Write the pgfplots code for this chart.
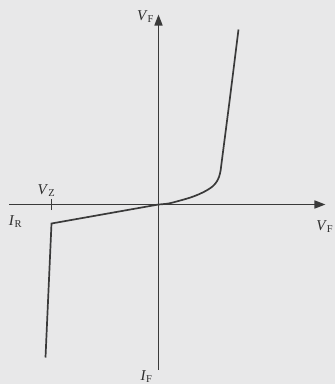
\documentclass[border=0pt]{standalone}
\usepackage{fontspec}
\setmainfont{Liberation Serif}
\usepackage{pgfplots}
\pgfplotsset{compat=1.18}
\usetikzlibrary{arrows.meta}
\definecolor{bg}{HTML}{E8E8E9}
\definecolor{ink}{HTML}{3A3A3A}
\definecolor{txt}{HTML}{2E2E2E}
\newcommand{\lab}{\fontsize{15}{18}\selectfont}
\begin{document}
\begin{tikzpicture}
\fill[bg] (-158.5pt,-179.5pt) rectangle (176.5pt,204.5pt);
\begin{axis}[
  x=1pt, y=1pt, anchor=origin, at={(0pt,0pt)},
  xmin=-149, xmax=167, ymin=-165, ymax=190,
  enlargelimits=false, clip=false,
  axis lines=middle,
  axis line style={draw=ink, line width=1.6pt, -{Triangle[length=11pt,width=8pt]}},
  xtick={-107}, xticklabels={}, ytick=\empty,
  major tick length=11pt, tick align=center,
  tick style={draw=ink, line width=1.4pt},
]
\addplot[ink, line width=1.7pt, sharp plot] coordinates {(-113,-153) (-107,-19) (0,0)};
\addplot[ink, line width=1.7pt, smooth, tension=0.5] coordinates {(0,0) (10,1) (21,3.8) (32,7) (41,10.5) (48,14) (54,18) (58,22.5) (60.5,27.5) (62,33.5) (63,41) (71.5,107) (80,175)};
\node[text=txt, font=\lab] at (axis cs:-112,14) {\textit{V}\textsubscript{Z}};
\node[text=txt, font=\lab] at (axis cs:-143,-17) {\textit{I}\textsubscript{R}};
\node[text=txt, font=\lab] at (axis cs:-13,188) {\textit{V}\textsubscript{F}};
\node[text=txt, font=\lab] at (axis cs:-12,-172) {\textit{I}\textsubscript{F}};
\node[text=txt, font=\lab, anchor=east, inner sep=0pt] at (axis cs:175,-22) {\textit{V}\textsubscript{F}};
\end{axis}
\pgfresetboundingbox
\useasboundingbox (-158.5pt,-179.5pt) rectangle (176.5pt,204.5pt);
\end{tikzpicture}
\end{document}
